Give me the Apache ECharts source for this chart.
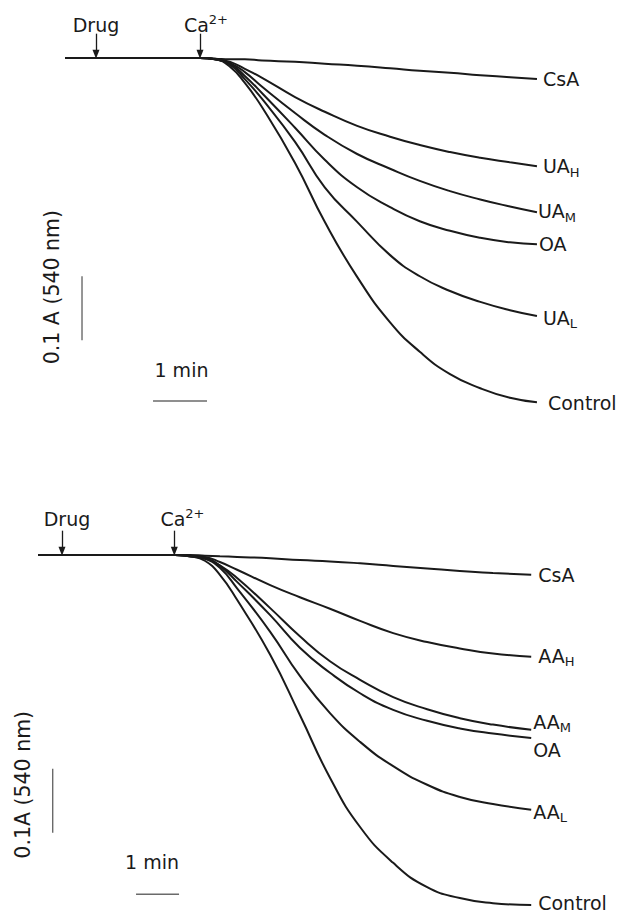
<!DOCTYPE html>
<html><head><meta charset="utf-8">
<script src="https://cdn.jsdelivr.net/npm/echarts@6/dist/echarts.min.js"></script>
<style>html,body{margin:0;padding:0;background:#fff}#c{width:623px;height:916px}</style>
</head><body><div id="c"></div>
<script>
// ---------- Top panel (UA) : time in min, absorbance change (A, 540 nm) ----------
const topTime    = [0, 2.50, 2.78, 3.06, 3.33, 3.65, 4.26, 4.81, 5.41, 6.02, 6.57, 7.13, 7.69, 8.24, 8.74];
const topCsA     = [0, 0, -0.001, -0.002, -0.002, -0.004, -0.006, -0.009, -0.012, -0.016, -0.020, -0.023, -0.027, -0.030, -0.033];
const topUAH     = [0, 0, -0.001, -0.006, -0.017, -0.031, -0.061, -0.084, -0.106, -0.123, -0.136, -0.147, -0.156, -0.163, -0.169];
const topUAM     = [0, 0, -0.002, -0.008, -0.022, -0.045, -0.086, -0.120, -0.150, -0.173, -0.192, -0.208, -0.221, -0.232, -0.241];
const topOA      = [0, 0, -0.002, -0.009, -0.028, -0.055, -0.109, -0.159, -0.202, -0.233, -0.255, -0.270, -0.281, -0.288, -0.291];
const topUAL     = [0, 0, -0.002, -0.011, -0.033, -0.064, -0.131, -0.202, -0.256, -0.308, -0.341, -0.364, -0.381, -0.394, -0.403];
const topControl = [0, 0, -0.002, -0.014, -0.039, -0.077, -0.164, -0.256, -0.342, -0.413, -0.459, -0.494, -0.516, -0.531, -0.538];
const topNames   = ['CsA', 'UA_H', 'UA_M', 'OA', 'UA_L', 'Control'];

// ---------- Bottom panel (AA) ----------
const botTime    = [0, 3.19, 3.53, 3.88, 4.23, 4.63, 5.40, 6.09, 6.79, 7.49, 8.26, 9.05, 9.81, 10.58, 11.47];
const botCsA     = [0, 0, 0, -0.001, -0.002, -0.003, -0.005, -0.008, -0.010, -0.013, -0.017, -0.021, -0.025, -0.028, -0.031];
const botAAH     = [0, 0, -0.001, -0.003, -0.011, -0.023, -0.047, -0.066, -0.084, -0.103, -0.122, -0.136, -0.146, -0.154, -0.159];
const botAAM     = [0, 0, -0.002, -0.005, -0.016, -0.036, -0.083, -0.127, -0.166, -0.195, -0.222, -0.241, -0.255, -0.265, -0.273];
const botOA      = [0, 0, -0.002, -0.005, -0.017, -0.042, -0.094, -0.145, -0.184, -0.216, -0.242, -0.259, -0.271, -0.279, -0.286];
const botAAL     = [0, 0, -0.002, -0.006, -0.020, -0.052, -0.120, -0.189, -0.247, -0.292, -0.330, -0.359, -0.378, -0.389, -0.398];
const botControl = [0, 0, -0.002, -0.009, -0.031, -0.070, -0.156, -0.250, -0.348, -0.425, -0.481, -0.519, -0.536, -0.544, -0.547];
const botNames   = ['CsA', 'AA_H', 'AA_M', 'OA', 'AA_L', 'Control'];

// Event markers (time of addition, min) and scale bars (0.1 A, 1 min)
const topEvents = [['Drug', 0.574], ['Ca2+', 2.5]];
const botEvents = [['Drug', 0.558], ['Ca2+', 3.17]];
const scaleA = 0.1, scaleMin = 1;
const topScale = { vx: 0.315, vy: -0.341, hx: 1.63, hy: -0.536 };
const botScale = { vx: 0.342, vy: -0.334, hx: 2.28, hy: -0.530 };
// [text, t, A, rotation, fontSize]
const topTexts = [['0.1 A (540 nm)', -0.24, -0.358, 90, 20.5], ['1 min', 2.157, -0.4875, 0, 19], ['Drug', 0.574, 0.052, 0, 19], ['Ca2+', 2.61, 0.052, 0, 19]];
const botTexts = [['0.1A (540 nm)', -0.36, -0.359, 90, 20.5], ['1 min', 2.651, -0.480, 0, 19], ['Drug', 0.674, 0.056, 0, 19], ['Ca2+', 3.36, 0.056, 0, 19]];

// label offsets [dx, dy] in px
const topLabelOffsets = [[6, 0], [6, 0], [1, -1], [2, 0], [6, 2], [11, 1]];
const botLabelOffsets = [[7, 0], [7, -1], [2, -8], [2, 12], [2, 2], [7, -2]];

const FONT = 'DejaVu Sans';
const INK = '#1a1a1a';
function makeRich(fs) {
  return {
    m: { fontSize: fs, color: INK, fontFamily: FONT, opacity: 1 },
    s: { fontSize: 13, color: INK, fontFamily: FONT, padding: [12, 0, 0, 0] },
    p: { fontSize: 13, color: INK, fontFamily: FONT, padding: [0, 0, 11, 0] }
  };
}
function fmt(name) {
  if (name === 'Ca2+') return '{m|Ca}{p|2+}';
  const i = name.indexOf('_');
  if (i < 0) return '{m|' + name + '}';
  return '{m|' + name.slice(0, i) + '}{s|' + name.slice(i + 1) + '}';
}

function traceSeries(gi, time, arrays, names, offsets) {
  return arrays.map((arr, k) => ({
    type: 'line', xAxisIndex: gi, yAxisIndex: gi,
    data: time.map((t, j) => [t, arr[j]]),
    showSymbol: false, symbol: 'none', smooth: 0.5,
    lineStyle: { color: INK, width: 2 }, silent: true, z: 3,
    endLabel: { show: true, formatter: fmt(names[k]), rich: makeRich(19), distance: 0, offset: offsets[k] }
  }));
}
function scaleSeries(gi, s) {
  const st = { color: '#6a6a6a', width: 1.4 };
  return [
    { type: 'line', xAxisIndex: gi, yAxisIndex: gi, data: [[s.vx, s.vy], [s.vx, s.vy - scaleA]], showSymbol: false, symbol: 'none', lineStyle: st, silent: true },
    { type: 'line', xAxisIndex: gi, yAxisIndex: gi, data: [[s.hx, s.hy], [s.hx + scaleMin, s.hy]], showSymbol: false, symbol: 'none', lineStyle: st, silent: true }
  ];
}
function arrowSeries(gi, events) {
  return {
    type: 'line', xAxisIndex: gi, yAxisIndex: gi, data: [], silent: true,
    markLine: {
      silent: true, animation: false, symbol: ['none', 'triangle'], symbolSize: [7, 9],
      lineStyle: { color: INK, width: 1.3, type: 'solid' }, itemStyle: { color: INK }, label: { show: false },
      data: events.map(e => [{ coord: [e[1], 0.038] }, { coord: [e[1], 0.006] }])
    }
  };
}
function textSeries(gi, texts) {
  return {
    type: 'scatter', xAxisIndex: gi, yAxisIndex: gi, symbolSize: 0, silent: true, clip: false,
    itemStyle: { opacity: 1, color: INK },
    data: texts.map(t => ({
      value: [t[1], t[2]],
      label: { show: true, position: 'inside', rotate: t[3], color: INK, opacity: 1,
               textBorderWidth: 0, formatter: fmt(t[0]), rich: makeRich(t[4]) }
    }))
  };
}

const option = {
  animation: false,
  backgroundColor: '#fff',
  textStyle: { fontFamily: FONT },
  grid: [
    { left: 11, width: 594, top: 0.4, height: 441.6, outerBoundsMode: 'none', containLabel: false },
    { left: 3.6, width: 593.4, top: 497.4, height: 441.6, outerBoundsMode: 'none', containLabel: false }
  ],
  xAxis: [
    { type: 'value', gridIndex: 0, min: -1, max: 10, show: false },
    { type: 'value', gridIndex: 1, min: -0.8, max: 13, show: false }
  ],
  yAxis: [
    { type: 'value', gridIndex: 0, min: -0.6, max: 0.09, show: false },
    { type: 'value', gridIndex: 1, min: -0.6, max: 0.09, show: false }
  ],
  series: [].concat(
    traceSeries(0, topTime, [topCsA, topUAH, topUAM, topOA, topUAL, topControl], topNames, topLabelOffsets),
    traceSeries(1, botTime, [botCsA, botAAH, botAAM, botOA, botAAL, botControl], botNames, botLabelOffsets),
    scaleSeries(0, topScale), scaleSeries(1, botScale),
    [arrowSeries(0, topEvents), arrowSeries(1, botEvents), textSeries(0, topTexts), textSeries(1, botTexts)]
  )
};
const chart = echarts.init(document.getElementById('c'), null, { renderer: 'svg' });
chart.setOption(option);
</script>
</body></html>
